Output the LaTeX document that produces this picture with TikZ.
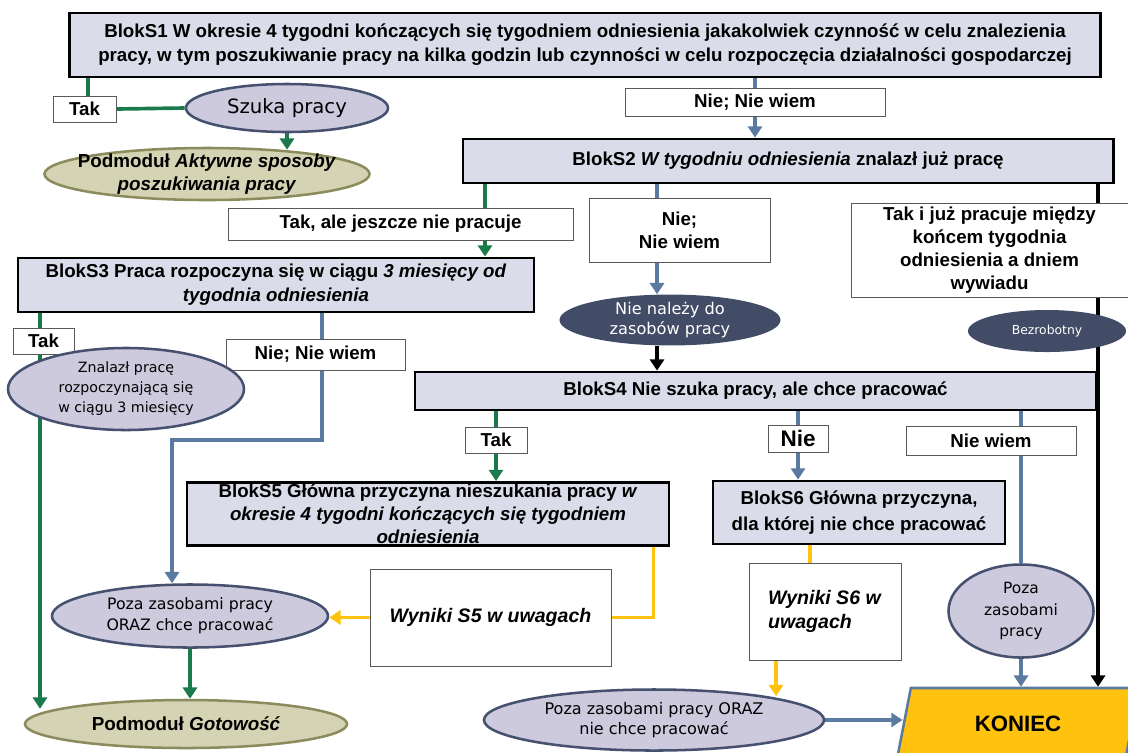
\documentclass[tikz,border=0pt]{standalone}
\usepackage{fontspec}
\setmainfont{Liberation Sans}
\newfontfamily\verdana{DejaVu Sans}
\usetikzlibrary{shapes.geometric, arrows.meta, calc, backgrounds}

\definecolor{blokfill}{HTML}{DADCE9}
\definecolor{takgreen}{HTML}{1B7A4B}
\definecolor{nieblue}{HTML}{5B7AA1}
\definecolor{wynyellow}{HTML}{FFC20E}
\definecolor{stanfill}{HTML}{CDCADE}
\definecolor{stanborder}{HTML}{46506F}
\definecolor{ciemnyfill}{HTML}{434C67}
\definecolor{podfill}{HTML}{D4D4B4}
\definecolor{podborder}{HTML}{8B8B5E}

\tikzset{
  blok/.style={draw=black, line width=2pt, fill=blokfill, align=center, inner sep=1pt,
    font=\fontsize{13.3}{17}\selectfont\bfseries},
  odp/.style={draw=black!65, line width=0.6pt, fill=white, align=center, inner sep=1pt,
    font=\fontsize{13.3}{16.5}\selectfont\bfseries},
  stan/.style={ellipse, draw=stanborder, line width=1.8pt, fill=stanfill, align=center,
    inner sep=0pt, font=\verdana\fontsize{11}{14.5}\selectfont},
  ciemny/.style={ellipse, fill=ciemnyfill, text=white, align=center, inner sep=0pt,
    font=\verdana\fontsize{11.5}{14.5}\selectfont},
  podmod/.style={ellipse, draw=podborder, line width=1.8pt, fill=podfill, align=center,
    inner sep=0pt, font=\fontsize{13.4}{16.5}\selectfont\bfseries},
  linia/.style={line width=2.6pt},
  strz/.style={linia, -{Triangle[length=8pt,width=10pt]}}
}

\begin{document}
\begin{tikzpicture}[x=0.025cm, y=-0.025cm]
  \useasboundingbox (0,0) rectangle (1128,752);
  \clip (0,0) rectangle (1128,752);

  % bloki pytan
  \node[blok, minimum width=25.75cm, minimum height=1.6cm] (BlokS1) at (585,45)
    {BlokS1 W okresie 4 tygodni kończących się tygodniem odniesienia jakakolwiek czynność w celu znalezienia\\
     pracy, w tym poszukiwanie pracy na kilka godzin lub czynności w celu rozpoczęcia działalności gospodarczej};
  \node[blok, minimum width=16.25cm, minimum height=1.1cm] (BlokS2) at (788,161)
    {BlokS2 \textit{W tygodniu odniesienia} znalazł już pracę};
  \node[blok, minimum width=12.9cm, minimum height=1.35cm] (BlokS3) at (276,285)
    {BlokS3 Praca rozpoczyna się w ciągu \textit{3 miesięcy od}\\ \textit{tygodnia odniesienia}};
  \node[blok, minimum width=17.025cm, minimum height=0.95cm] (BlokS4) at (755.5,391)
    {BlokS4 Nie szuka pracy, ale chce pracować};
  \node[blok, minimum width=12.05cm, minimum height=1.575cm, font=\fontsize{13.3}{16.5}\selectfont\bfseries]
    (BlokS5) at (428,514)
    {BlokS5 Główna przyczyna nieszukania pracy \textit{w}\\
     \textit{okresie 4 tygodni kończących się tygodniem}\\ \textit{odniesienia}};
  \node[blok, minimum width=7.3cm, minimum height=1.575cm, font=\fontsize{13.3}{18}\selectfont\bfseries]
    (BlokS6) at (859,512.5) {BlokS6 Główna przyczyna,\\ dla której nie chce pracować};

  % odpowiedzi
  \node[odp, minimum width=1.575cm, minimum height=0.65cm] (TakS1) at (84.5,109) {Tak};
  \node[odp, minimum width=6.5cm, minimum height=0.7cm] (NieS1) at (755,102) {Nie; Nie wiem};
  \node[odp, minimum width=8.625cm, minimum height=0.8cm] (TakAle) at (400.5,224) {Tak, ale jeszcze nie pracuje};
  \node[odp, minimum width=4.525cm, minimum height=1.6cm] (NieS2) at (679.5,230) {Nie;\\ Nie wiem};
  \node[odp, minimum width=6.925cm, minimum height=2.35cm] (TakJuz) at (989.5,250)
    {Tak i już pracuje między\\ końcem tygodnia\\ odniesienia a dniem\\ wywiadu};
  \node[odp, minimum width=1.525cm, minimum height=0.65cm] (TakS3) at (43.5,341) {Tak};
  \node[odp, minimum width=4.475cm, minimum height=0.775cm] (NieS3) at (315.5,354.5) {Nie; Nie wiem};
  \node[odp, minimum width=1.55cm, minimum height=0.65cm] (TakS4) at (496,440) {Tak};
  \node[odp, minimum width=1.5cm, minimum height=0.675cm, font=\fontsize{16}{18}\selectfont\bfseries]
    (NieS4) at (798,438.5) {Nie};
  \node[odp, minimum width=4.25cm, minimum height=0.725cm] (NieWiemS4) at (991,440.5) {Nie wiem};
  \node[odp, minimum width=6.025cm, minimum height=2.425cm, font=\fontsize{13.9}{17}\selectfont\bfseries]
    (WynikiS5) at (490.5,617.5) {\textit{Wyniki S5 w uwagach}};
  \node[odp, minimum width=3.8cm, minimum height=2.425cm, align=left, font=\fontsize{13.9}{17.5}\selectfont\bfseries]
    (WynikiS6) at (825,611.5) {\textit{Wyniki S6 w}\\ \textit{uwagach}};

  % stany
  \node[stan, minimum width=5.05cm, minimum height=1.2cm, font=\verdana\fontsize{14}{16}\selectfont]
    (SzukaPracy) at (287,108) {Szuka pracy};
  \node[ciemny, minimum width=5.525cm, minimum height=1.175cm] (NieNalezy) at (670,320)
    {Nie należy do\\ zasobów pracy};
  \node[ciemny, minimum width=3.95cm, minimum height=1.05cm, font=\verdana\fontsize{8.8}{12}\selectfont]
    (Bezrobotny) at (1047,331) {Bezrobotny};
  \node[stan, minimum width=5.9cm, minimum height=2.05cm, font=\verdana\fontsize{10.1}{14.2}\selectfont]
    (Znalazl) at (126,389) {Znalazł pracę\\ rozpoczynającą się\\ w ciągu 3 miesięcy};
  \node[stan, minimum width=6.9cm, minimum height=1.575cm, font=\verdana\fontsize{11.2}{15}\selectfont]
    (OrazChce) at (190,616) {Poza zasobami pracy\\ ORAZ chce pracować};
  \node[stan, minimum width=3.625cm, minimum height=2.325cm, font=\verdana\fontsize{11}{15.5}\selectfont]
    (PozaZasobami) at (1021,611) {Poza\\ zasobami\\ pracy};
  \node[stan, minimum width=8.5cm, minimum height=1.525cm, font=\verdana\fontsize{11.4}{14.5}\selectfont]
    (OrazNie) at (654,720) {Poza zasobami pracy ORAZ\\ nie chce pracować};

  % podmoduly i koniec
  \node[podmod, minimum width=8.125cm, minimum height=1.3cm, inner xsep=-11pt, inner ysep=-4pt]
    (PodmodAktywne) at (207,174) {Podmoduł \textit{Aktywne sposoby}\\ \textit{poszukiwania pracy}};
  \node[podmod, minimum width=8.05cm, minimum height=1.2cm] (Gotowosc) at (186,724)
    {Podmoduł \textit{Gotowość}};
  \node[trapezium, trapezium left angle=76, trapezium right angle=104, trapezium stretches=true,
    draw=nieblue, line width=1.8pt, fill=wynyellow, minimum width=6.1cm, minimum height=1.8cm,
    font=\fontsize{15.8}{18}\selectfont\bfseries] (Koniec) at (1018,724) {KONIEC};

  % punkty pomocnicze
  \coordinate (xTakAle) at (485,0);
  \coordinate (xNieS2) at (657,0);
  \coordinate (xCzarny) at (1098,0);
  \coordinate (xTakS3) at (40,0);
  \coordinate (xNieS3) at (322,0);
  \coordinate (zakretS3) at (172,440);
  \coordinate (xWynS6) at (810,0);
  \coordinate (xWynS6b) at (776,0);

  \begin{scope}[on background layer]
    \draw[linia, takgreen] (TakS1.north -| 88,0) -- (BlokS1.south -| 88,0);
    \draw[linia, takgreen] (TakS1.east) -- (SzukaPracy.west);
    \draw[strz, takgreen] (SzukaPracy.south) -- ($(SzukaPracy.south |- PodmodAktywne.north)+(0,3)$);
    \draw[linia, nieblue] (NieS1.north |- BlokS1.south) -- (NieS1.north);
    \draw[strz, nieblue] (NieS1.south) -- (NieS1.south |- BlokS2.north);

    \draw[linia, takgreen] (xTakAle |- BlokS2.south) -- (xTakAle |- TakAle.north);
    \draw[strz, takgreen] (xTakAle |- TakAle.south) -- (xTakAle |- BlokS3.north);
    \draw[linia, nieblue] (xNieS2 |- BlokS2.south) -- (xNieS2 |- NieS2.north);
    \draw[strz, nieblue] (xNieS2 |- NieS2.south) -- (xNieS2 |- NieNalezy.north);
    \draw[strz, black] (xNieS2 |- NieNalezy.south) -- (xNieS2 |- BlokS4.north);
    \draw[strz, black] (xCzarny |- BlokS2.south) -- (xCzarny |- Koniec.north);

    \draw[linia, takgreen] (xTakS3 |- BlokS3.south) -- (xTakS3 |- TakS3.north);
    \draw[strz, takgreen] (xTakS3 |- TakS3.south) -- ($(xTakS3 |- Gotowosc.north)+(0,10)$);
    \draw[linia, nieblue] (xNieS3 |- BlokS3.south) -- (xNieS3 |- NieS3.north);
    \draw[strz, nieblue] (xNieS3 |- NieS3.south) |- (zakretS3) -- (zakretS3 |- OrazChce.north);
    \draw[strz, takgreen] (OrazChce.south) -- (OrazChce.south |- Gotowosc.north);

    \draw[linia, takgreen] (TakS4.north |- BlokS4.south) -- (TakS4.north);
    \draw[strz, takgreen] (TakS4.south) -- (TakS4.south |- BlokS5.north);
    \draw[linia, nieblue] (NieS4.north |- BlokS4.south) -- (NieS4.north);
    \draw[strz, nieblue] (NieS4.south) -- (NieS4.south |- BlokS6.north);
    \draw[linia, nieblue] (PozaZasobami.north |- BlokS4.south) -- (PozaZasobami.north);
    \draw[strz, nieblue] (PozaZasobami.south) -- (PozaZasobami.south |- Koniec.north);

    \draw[linia, wynyellow] ($(BlokS5.south east)+(-17,0)$) |- (WynikiS5.east);
    \draw[strz, wynyellow] (WynikiS5.west) -- (WynikiS5.west -| OrazChce.east);
    \draw[linia, wynyellow] (xWynS6 |- BlokS6.south) -- (xWynS6 |- WynikiS6.north);
    \draw[strz, wynyellow] (xWynS6b |- WynikiS6.south) -- ($(xWynS6b |- OrazNie.north)+(0,8)$);
    \draw[strz, nieblue] (OrazNie.east) -- (OrazNie.east -| Koniec.west);
  \end{scope}
\end{tikzpicture}
\end{document}
